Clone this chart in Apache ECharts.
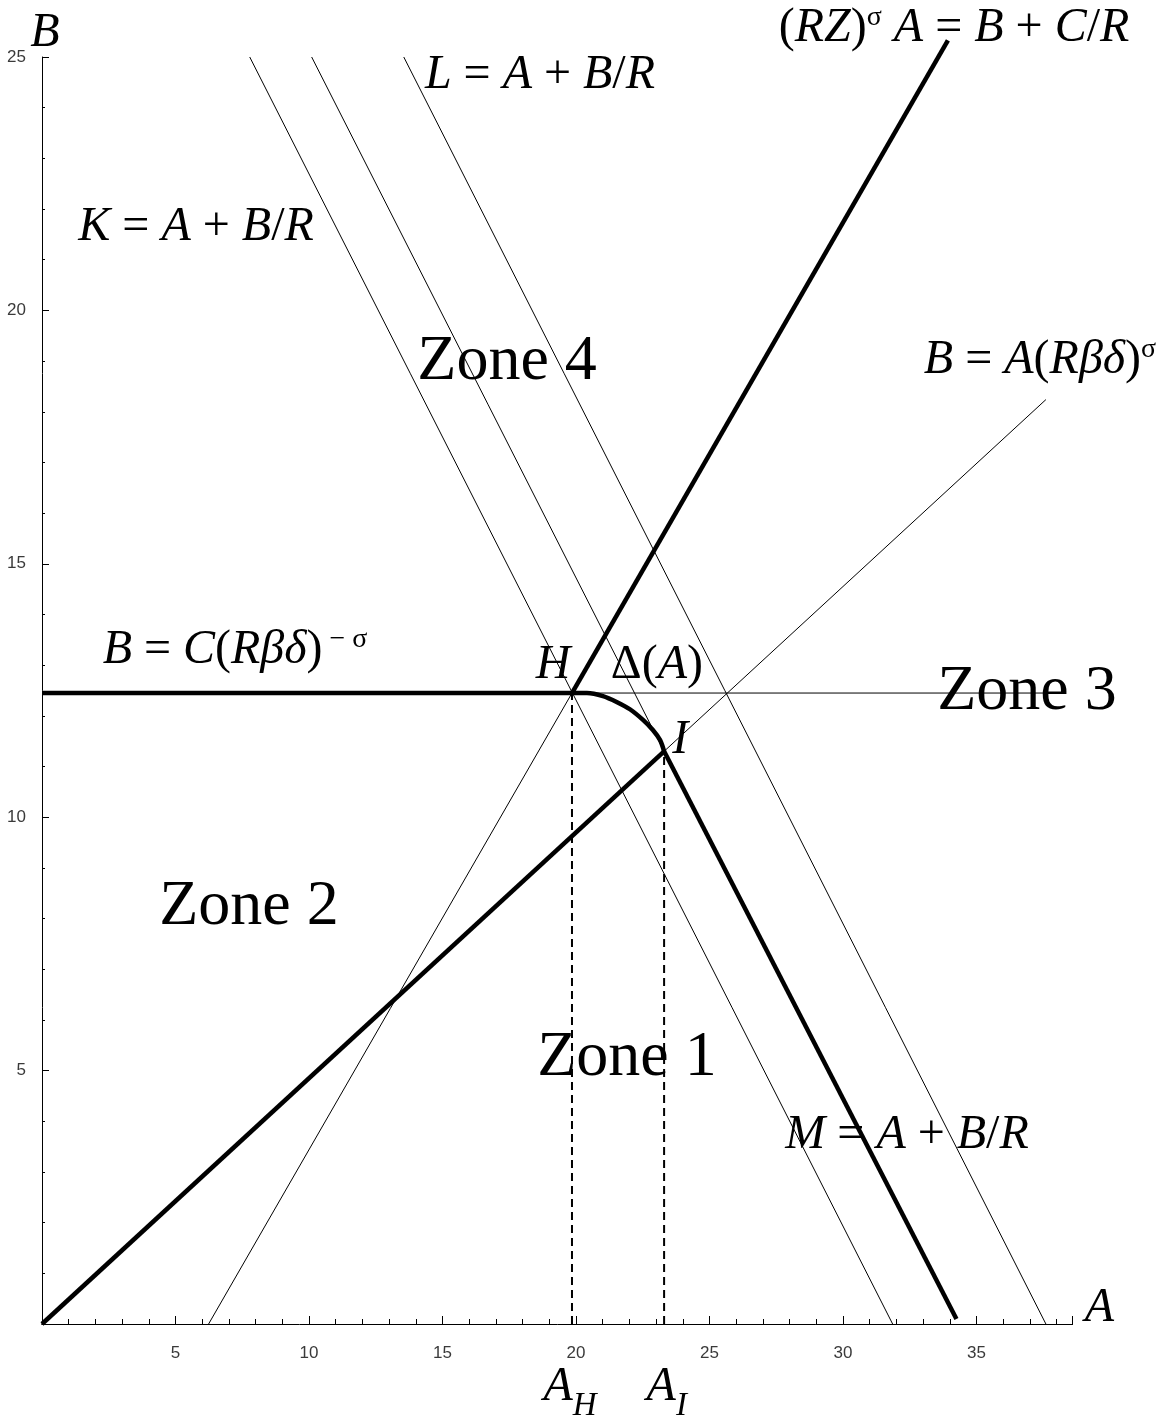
<!DOCTYPE html>
<html>
<head>
<meta charset="utf-8">
<script src="https://cdn.jsdelivr.net/npm/echarts@6/dist/echarts.min.js"></script>
<style>
  html, body { margin: 0; background: #fff; }
  #chart { width: 1174px; height: 1420px; }
</style>
</head>
<body>
<div id="chart"></div>
<script>
// points, in (A, B)
const pointH = [19.85, 12.45];
const pointI = [23.3, 11.3];

// heavy segments
const thickLines = [
  [[0, 0], pointI],            // B = A(Rβδ)^σ below I
  [pointH, [33.93, 25.33]],    // (RZ)^σ A = B + C/R above H
  [[0, 12.45], pointH],        // B = C(Rβδ)^-σ left of H
  [pointI, [34.25, 0.1]]       // M line below I
];
// thin segments
const thinLines = [
  [pointI, [37.6, 18.24]],
  [[6.24, 0], pointH],
  [pointH, [37.9, 12.45]],
  [[7.78, 25], [31.86, 0]],    // K
  [[10.1, 25], pointI],        // M above I
  [[13.55, 25], [37.6, 0]],    // L
  [[-1, 0], [0, 0]]            // x axis left of the origin
];
const dashedLines = [
  [[19.85, 0], pointH],
  [[23.3, 0], pointI]
];
// Δ(A) curve between H and I
const deltaCurve = [pointH, [20.41, 12.45], [21.01, 12.39], [21.54, 12.27], [22.02, 12.13],
  [22.51, 11.92], [22.88, 11.72], [23.15, 11.52], pointI];

const xTicks = { min: 0, max: 38.6, step: 5 };
const yTicks = { min: 0, max: 25, step: 5 };

// text labels: [rich text, A, B] (label centre)
const labels = [
  ['{it|B}', 0.11, 25.47],
  ['{it|A}', 39.6, 0.3],
  ['{it|K}{rm| = }{it|A}{rm| + }{it|B}{rm|/}{it|R}', 5.77, 21.63],
  ['{it|L}{rm| = }{it|A}{rm| + }{it|B}{rm|/}{it|R}', 18.65, 24.64],
  ['{it|M}{rm| = }{it|A}{rm| + }{it|B}{rm|/}{it|R}', 32.4, 3.73],
  ['{rm|(}{it|RZ}{rm|)}{sup|σ}{it| A}{rm| = }{it|B}{rm| + }{it|C}{rm|/}{it|R}', 34.16, 25.57],
  ['{it|B}{rm| = }{it|A}{rm|(}{it|Rβδ}{rm|)}{sup|σ}', 37.38, 19.02],
  ['{it|B}{rm| = }{it|C}{rm|(}{it|Rβδ}{rm|)}{sup| − σ}', 7.23, 13.3],
  ['{it|H}', 19.14, 13.0],
  ['{rm|Δ(}{it|A}{rm|)}', 23.03, 13.0],
  ['{it|I}', 23.9, 11.52],
  ['{base|A}{sub|H}', 19.78, -1.36],
  ['{base|A}{sub|I}', 23.4, -1.36],
  ['{zone|Zone 4}', 17.42, 18.98],
  ['{zone|Zone 3}', 36.89, 12.47],
  ['{zone|Zone 2}', 7.75, 8.23],
  ['{zone|Zone 1}', 21.91, 5.25]
];

const serif = "'Liberation Serif', 'Times New Roman', serif";
const rich = {
  it: { fontFamily: serif, fontStyle: 'italic', fontSize: 48, color: '#000' },
  rm: { fontFamily: serif, fontSize: 48, color: '#000' },
  sup: { fontFamily: serif, fontSize: 28, color: '#000', verticalAlign: 'top' },
  base: { fontFamily: serif, fontStyle: 'italic', fontSize: 48, color: '#000', verticalAlign: 'top', padding: [0, 0, 12, 0] },
  sub: { fontFamily: serif, fontStyle: 'italic', fontSize: 33, color: '#000', verticalAlign: 'bottom' },
  zone: { fontFamily: serif, fontSize: 64, color: '#000' }
};

const segment = (pts, width, type) => ({
  type: 'line',
  data: pts,
  symbol: 'none',
  clip: false,
  silent: true,
  lineStyle: { color: '#000', width: width, type: type || 'solid', opacity: 1 },
  z: width > 2 ? 4 : 3
});

const series = [];
thinLines.forEach(p => series.push(segment(p, 1)));
dashedLines.forEach(p => series.push(segment(p, 2, [8, 5])));
thickLines.forEach(p => series.push(segment(p, 4.5)));
series.push(Object.assign(segment(deltaCurve, 4.5), { smooth: 0.3 }));

series.push({
  type: 'scatter',
  symbolSize: 1,
  itemStyle: { color: 'rgba(0,0,0,0)', opacity: 1 },
  clip: false,
  silent: true,
  z: 6,
  data: labels.map(l => ({
    value: [l[1], l[2]],
    label: { show: true, position: 'inside', formatter: l[0], rich: rich, color: '#000', opacity: 1 }
  }))
});

const tickFont = { fontFamily: "'Liberation Sans Narrow', 'Liberation Sans', sans-serif", fontSize: 17, color: '#3a3a3a' };
const tickText = v => (v === 0 || v % 5 !== 0 ? '' : String(v));

const chart = echarts.init(document.getElementById('chart'));
chart.setOption({
  animation: false,
  backgroundColor: '#fff',
  grid: { left: 42, right: 101.4, top: 57, bottom: 96, outerBoundsMode: 'none' },
  xAxis: {
    type: 'value',
    min: xTicks.min, max: xTicks.max, interval: xTicks.step,
    axisLine: { lineStyle: { color: '#000', width: 1 } },
    axisTick: { inside: true, length: 8, lineStyle: { color: '#000' } },
    minorTick: { show: true, splitNumber: 5, length: 5, lineStyle: { color: '#000' } },
    axisLabel: Object.assign({ margin: 21, showMaxLabel: false, formatter: tickText }, tickFont),
    splitLine: { show: false }
  },
  yAxis: {
    type: 'value',
    min: yTicks.min, max: yTicks.max, interval: yTicks.step,
    axisLine: { lineStyle: { color: '#000', width: 1 } },
    axisTick: { inside: true, length: 7, lineStyle: { color: '#000' } },
    minorTick: { show: true, splitNumber: 5, length: 3, lineStyle: { color: '#000' } },
    axisLabel: Object.assign({ margin: 16, formatter: tickText }, tickFont),
    splitLine: { show: false }
  },
  series: series
});
</script>
</body>
</html>
